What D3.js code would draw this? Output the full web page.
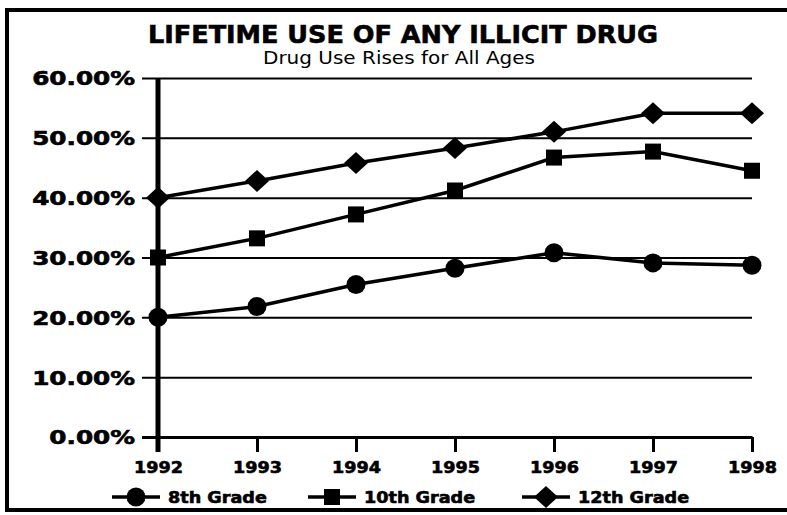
<!DOCTYPE html>
<html>
<head>
<meta charset="utf-8">
<script src="https://cdn.jsdelivr.net/npm/d3@7"></script>
<style>
  body { margin: 0; background: #fff; }
  svg { display: block; }
  text { font-family: 'DejaVu Sans', sans-serif; fill: #000; }
  .heavy { font-weight: bold; stroke: #000; stroke-width: 0.6px; }
</style>
</head>
<body>
<script>
const years = [1992, 1993, 1994, 1995, 1996, 1997, 1998]
const grade8 = [20.0, 21.8, 25.5, 28.2, 30.8, 29.1, 28.7]
const grade10 = [30.0, 33.2, 37.2, 41.2, 46.7, 47.7, 44.5]
const grade12 = [40.0, 42.8, 45.8, 48.3, 51.0, 54.1, 54.1]
const seriesNames = ['8th Grade', '10th Grade', '12th Grade']
const yTicks = [0, 10, 20, 30, 40, 50, 60]

const width = 787
const height = 515

const svg = d3.select('body')
    .append('svg')
    .attr('width', width)
    .attr('height', height)

// widen text horizontally, the original face is a very wide one
function stretch (sel, k) {
    sel.each(function () {
        const w = this.getComputedTextLength()
        d3.select(this)
            .attr('textLength', w * k)
            .attr('lengthAdjust', 'spacingAndGlyphs')
    })
}

// frame, right side runs off the picture
svg.append('rect')
    .attr('x', 7)
    .attr('y', 10)
    .attr('width', 800)
    .attr('height', 500)
    .attr('fill', 'none')
    .attr('stroke', '#000')
    .attr('stroke-width', 4)

const x = d3.scalePoint()
    .domain(years)
    .range([158, 752])

const y = d3.scaleLinear()
    .domain([0, 60])
    .range([437, 78])

// titles
svg.append('text')
    .attr('class', 'heavy')
    .attr('x', 403)
    .attr('y', 43)
    .attr('text-anchor', 'middle')
    .attr('font-size', 24)
    .attr('textLength', 510)
    .attr('lengthAdjust', 'spacingAndGlyphs')
    .text('LIFETIME USE OF ANY ILLICIT DRUG')

svg.append('text')
    .attr('x', 399)
    .attr('y', 64)
    .attr('text-anchor', 'middle')
    .attr('font-size', 18)
    .attr('textLength', 272)
    .attr('lengthAdjust', 'spacingAndGlyphs')
    .text('Drug Use Rises for All Ages')

// y axis: gridlines run from left tick stub to the last year
const yAxis = svg.append('g')
    .attr('transform', `translate(${x(1998)},0)`)
    .call(d3.axisLeft(y)
        .tickValues(yTicks)
        .tickSize(x(1998) - 142)
        .tickPadding(7)
        .tickFormat(d => d3.format('.2f')(d) + '%'))

yAxis.select('.domain').remove()
yAxis.selectAll('.tick line')
    .attr('stroke', '#000')
    .attr('stroke-width', d => d === 0 ? 3 : 2)
yAxis.selectAll('.tick text')
    .attr('class', 'heavy')
    .attr('font-size', 19)
    .attr('dy', '0.36em')
    .call(stretch, 1.3)

// x axis
const xAxis = svg.append('g')
    .attr('transform', `translate(0,${y(0)})`)
    .call(d3.axisBottom(x)
        .tickSize(15)
        .tickSizeOuter(0)
        .tickPadding(10))

xAxis.select('.domain').attr('stroke-width', 3)
xAxis.selectAll('.tick line').attr('stroke', '#000').attr('stroke-width', 3)
xAxis.selectAll('.tick text')
    .attr('class', 'heavy')
    .attr('font-size', 16)
    .call(stretch, 1.1)

// thick vertical axis line
svg.append('line')
    .attr('x1', x(1992))
    .attr('x2', x(1992))
    .attr('y1', y(60))
    .attr('y2', y(0) + 15)
    .attr('stroke', '#000')
    .attr('stroke-width', 5)

// markers
const markers = [
    (g) => g.append('circle').attr('r', 9.5),
    (g) => g.append('rect').attr('x', -8).attr('y', -8).attr('width', 16).attr('height', 16),
    (g) => g.append('path').attr('d', 'M0,-11L12,0L0,11L-12,0Z')
]

const series = [grade8, grade10, grade12]

const line = d3.line()
    .x((d, i) => x(years[i]))
    .y(d => y(d))

series.forEach((vals, si) => {
    svg.append('path')
        .datum(vals)
        .attr('fill', 'none')
        .attr('stroke', '#000')
        .attr('stroke-width', 3.5)
        .attr('d', line)

    vals.forEach((v, i) => {
        const g = svg.append('g')
            .attr('transform', `translate(${x(years[i])},${y(v)})`)
            .attr('fill', '#000')
        markers[si](g)
    })
})

// legend
const legendX = [112, 308, 522]
const legendY = 497
seriesNames.forEach((name, i) => {
    const g = svg.append('g')
        .attr('transform', `translate(${legendX[i]},${legendY})`)
    g.append('line')
        .attr('x1', 0)
        .attr('x2', 48)
        .attr('stroke', '#000')
        .attr('stroke-width', 3.5)
    const m = g.append('g')
        .attr('transform', 'translate(24,0)')
        .attr('fill', '#000')
    markers[i](m)
    g.append('text')
        .attr('class', 'heavy')
        .attr('x', 56)
        .attr('dy', '0.36em')
        .attr('font-size', 16)
        .text(name)
        .call(stretch, 1.1)
})
</script>
</body>
</html>
